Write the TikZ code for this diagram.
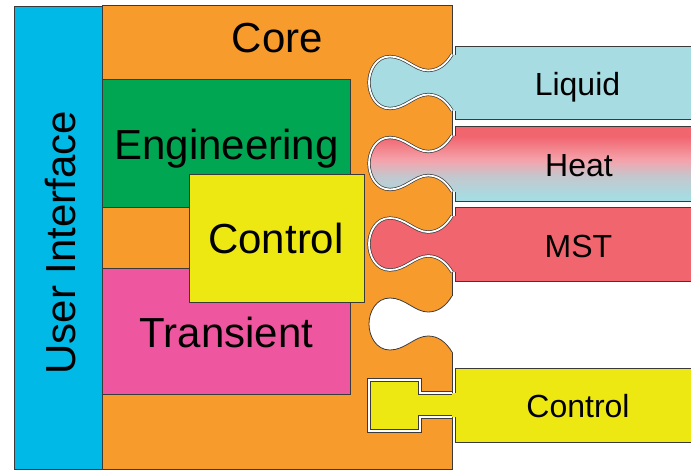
\documentclass[tikz,border=0pt]{standalone}
\usepackage{fontspec}
\setmainfont{Liberation Sans}
\definecolor{coreorange}{HTML}{F89B2D}
\definecolor{uicyan}{HTML}{00B9E6}
\definecolor{enggreen}{HTML}{00A651}
\definecolor{ctlyellow}{HTML}{EEE812}
\definecolor{trpink}{HTML}{EE56A0}
\definecolor{liqblue}{HTML}{A6DCE2}
\definecolor{mstred}{HTML}{F1656F}
\definecolor{heatpink}{HTML}{F4A4AC}
\definecolor{edgegray}{HTML}{3A3A3A}
\pgfdeclareverticalshading{heatshade}{100bp}{color(0bp)=(liqblue); color(28bp)=(liqblue); color(42bp)=(liqblue!60!heatpink); color(52bp)=(heatpink); color(68bp)=(mstred); color(100bp)=(mstred)}
\newcommand\knobpiece[4]{%
  \path[#4] (700,#2) -- (455,#2) -- (455,#1-28) -- (452,#1-28)
    .. controls (446,#1-18) and (438,#1-12) .. (428,#1-12)
    .. controls (415,#1-12) and (405,#1-26) .. (390,#1-26)
    .. controls (376,#1-26) and (369,#1-12) .. (369,#1)
    .. controls (369,#1+12) and (376,#1+26) .. (390,#1+26)
    .. controls (405,#1+26) and (415,#1+12) .. (428,#1+12)
    .. controls (438,#1+12) and (446,#1+18) .. (452,#1+28)
    -- (455,#1+28) -- (455,#3) -- (700,#3) -- cycle;
  \draw[boxedge] (700,#2) -- (455,#2) -- (455,#1-28);
  \draw[boxedge] (700,#3) -- (455,#3) -- (455,#1+28);
  \draw[notchline] (452,#1-28)
    .. controls (446,#1-18) and (438,#1-12) .. (428,#1-12)
    .. controls (415,#1-12) and (405,#1-26) .. (390,#1-26)
    .. controls (376,#1-26) and (369,#1-12) .. (369,#1)
    .. controls (369,#1+12) and (376,#1+26) .. (390,#1+26)
    .. controls (405,#1+26) and (415,#1+12) .. (428,#1+12)
    .. controls (438,#1+12) and (446,#1+18) .. (452,#1+28);
}
\begin{document}
\begin{tikzpicture}[x=1pt,y=-1pt,
  boxedge/.style={draw=edgegray, line width=0.9pt},
  notchline/.style={draw=edgegray, double=white, double distance=1.8pt, line width=0.7pt},
  plainnotch/.style={draw=edgegray, line width=0.8pt},
  area/.style={boxedge, inner sep=0pt, outer sep=0pt, anchor=north west},
  bigtext/.style={font=\fontsize{42}{50}\selectfont, inner sep=0pt, anchor=base},
  smalltext/.style={font=\fontsize{32}{38}\selectfont, inner sep=0pt, anchor=base}]
\useasboundingbox (0,0) rectangle (691,471);
% core
\node[area, fill=coreorange, minimum width=350pt, minimum height=464pt] (core) at (102,5) {};
% user interface
\node[area, fill=uicyan, minimum width=88pt, minimum height=463pt] (ui) at (14,6) {};
% inner modules
\node[area, fill=enggreen, minimum width=248pt, minimum height=128pt] (eng) at (102,79) {};
\node[area, fill=trpink, minimum width=248pt, minimum height=126pt] (trans) at (102,268) {};
\node[area, fill=ctlyellow, minimum width=175pt, minimum height=128pt] (ctl) at (189,174) {};
% puzzle pieces
\knobpiece{82.5}{46}{119}{fill=liqblue}
\knobpiece{163.5}{126}{201}{shading=heatshade}
\knobpiece{244}{207}{281}{fill=mstred}
% empty notch
\fill[white] (454,296) -- (452,296)
    .. controls (446,306) and (438,312) .. (428,312)
    .. controls (415,312) and (405,298) .. (390,298)
    .. controls (376,298) and (369,312) .. (369,324)
    .. controls (369,336) and (376,350) .. (390,350)
    .. controls (405,350) and (415,336) .. (428,336)
    .. controls (438,336) and (446,342) .. (452,352) -- (454,352) -- cycle;
\draw[plainnotch] (452,296)
    .. controls (446,306) and (438,312) .. (428,312)
    .. controls (415,312) and (405,298) .. (390,298)
    .. controls (376,298) and (369,312) .. (369,324)
    .. controls (369,336) and (376,350) .. (390,350)
    .. controls (405,350) and (415,336) .. (428,336)
    .. controls (438,336) and (446,342) .. (452,352);
% bottom control piece
\fill[ctlyellow] (700,368) -- (455,368) -- (455,393) -- (420,393) -- (420,380) -- (369,380)
  -- (369,431) -- (420,431) -- (420,417) -- (455,417) -- (455,442) -- (700,442) -- cycle;
\draw[boxedge] (700,368) -- (455,368) -- (455,393);
\draw[boxedge] (700,442) -- (455,442) -- (455,417);
\draw[notchline] (452,393) -- (420,393) -- (420,380) -- (369,380) -- (369,431) -- (420,431) -- (420,417) -- (452,417);
% labels
\node[bigtext] (coretext) at (277.5,52) {Core};
\node[bigtext] (engtext) at (226.5,159) {Engineering};
\node[bigtext] (ctltext) at (276,253) {Control};
\node[bigtext] (transtext) at (226.5,347) {Transient};
\node[bigtext, rotate=90] (uitext) at (75,242.5) {User Interface};
\node[smalltext] (liqtext) at (577.5,95) {Liquid};
\node[smalltext] (heattext) at (579,176) {Heat};
\node[smalltext] (msttext) at (578.5,257) {MST};
\node[smalltext] (ctl2text) at (578,417) {Control};
\end{tikzpicture}
\end{document}
